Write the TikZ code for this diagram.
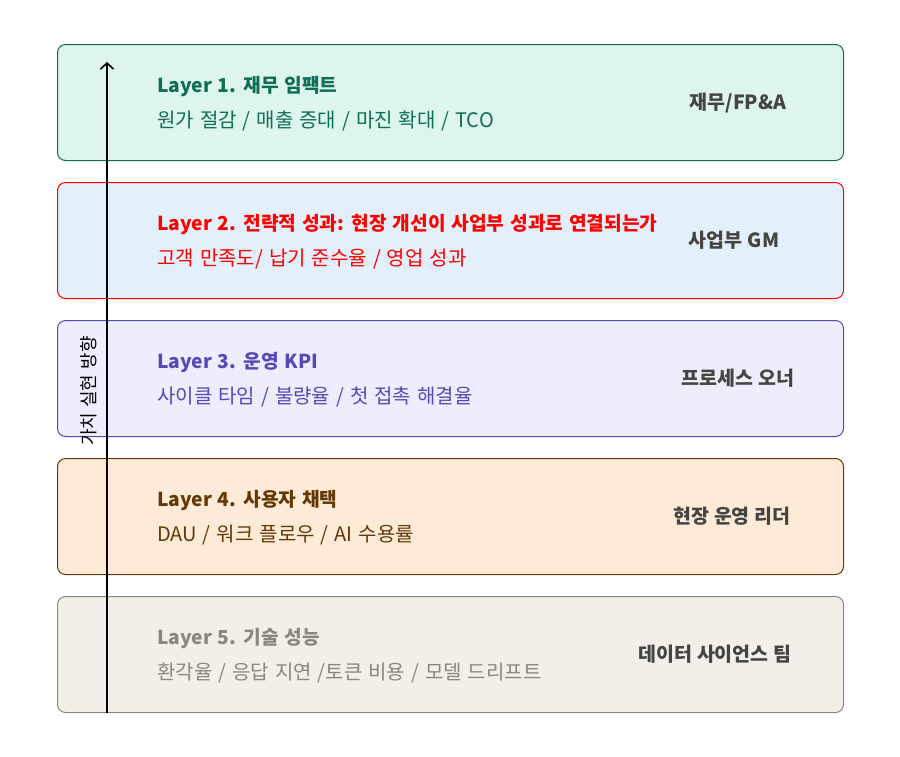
\documentclass[tikz,border=0pt]{standalone}
\usepackage{fontspec}
\setmainfont{Noto Sans CJK KR}
\usetikzlibrary{arrows.meta}
\definecolor{tealfill}{HTML}{DDF5EC}
\definecolor{tealline}{HTML}{0F6E56}
\definecolor{tealtext}{HTML}{0F6E56}
\definecolor{bluefill}{HTML}{E3EFFA}
\definecolor{redline}{HTML}{FF0000}
\definecolor{purpfill}{HTML}{EEEDFE}
\definecolor{purpline}{HTML}{534AB7}
\definecolor{purptext}{HTML}{534AB7}
\definecolor{ambfill}{HTML}{FDEBD7}
\definecolor{ambline}{HTML}{633806}
\definecolor{ambtext}{HTML}{633806}
\definecolor{grayfill}{HTML}{F1EFE8}
\definecolor{grayline}{HTML}{888780}
\definecolor{graytext}{HTML}{888780}
\definecolor{owner}{HTML}{444441}
\newcommand{\titlefnt}{\bfseries\fontsize{19.2}{22}\selectfont\spaceskip=5.8pt\relax}
\newcommand{\subfnt}{\fontsize{20}{24}\selectfont\spaceskip=6pt\relax}
\newcommand{\ownerfnt}{\bfseries\fontsize{19.5}{23}\selectfont\spaceskip=5pt\relax}
\newcommand{\vlabfnt}{\fontsize{18}{21}\selectfont\spaceskip=5pt\relax}
\tikzset{
  layerbox/.style={rectangle, rounded corners=8pt, line width=1pt, minimum width=786pt, minimum height=116pt, anchor=north west, inner sep=0pt},
  titletext/.style={anchor=base west, inner sep=0pt, font=\titlefnt},
  subtext/.style={anchor=base west, inner sep=0pt, font=\subfnt},
  ownertext/.style={anchor=base, inner sep=0pt, text=owner, font=\ownerfnt},
  arrowline/.style={line width=1.6pt, -{Straight Barb[length=6pt,width=13pt,line width=1.6pt]}},
}
\begin{document}
\begin{tikzpicture}[x=1pt,y=-1pt]
\useasboundingbox (0,0) rectangle (900,756);
\fill[white] (0,0) rectangle (900,756);

\node[layerbox, draw=tealline, fill=tealfill] (b1) at (57,44) {};
\node[layerbox, draw=redline, fill=bluefill] (b2) at (57,182) {};
\node[layerbox, draw=purpline, fill=purpfill] (b3) at (57,320) {};
\node[layerbox, draw=ambline, fill=ambfill] (b4) at (57,458) {};
\node[layerbox, draw=grayline, fill=grayfill] (b5) at (57,596) {};

\node[titletext, text=tealtext] (t1) at (157,92) {Layer 1. 재무 임팩트};
\node[subtext, text=tealtext] (s1) at (157,127) {원가 절감 / 매출 증대 / 마진 확대 / TCO};
\node[ownertext] (o1) at (738,109) {재무/FP\&A};

\node[titletext, text=redline] (t2) at (157,230) {Layer 2. 전략적 성과: 현장 개선이 사업부 성과로 연결되는가};
\node[subtext, text=redline] (s2) at (157,265) {고객 만족도/ 납기 준수율 / 영업 성과};
\node[ownertext] (o2) at (734,247) {사업부 GM};

\node[titletext, text=purptext] (t3) at (157,368) {Layer 3. 운영 KPI};
\node[subtext, text=purptext] (s3) at (157,403) {사이클 타임 / 불량율 / 첫 접촉 해결율};
\node[ownertext] (o3) at (738,385) {프로세스 오너};

\node[titletext, text=ambtext] (t4) at (157,506) {Layer 4. 사용자 채택};
\node[subtext, text=ambtext] (s4) at (157,541) {DAU / 워크 플로우 / AI 수용률};
\node[ownertext] (o4) at (732,523) {현장 운영 리더};

\node[titletext, text=graytext] (t5) at (157,644) {Layer 5. 기술 성능};
\node[subtext, text=graytext] (s5) at (157,679) {환각율 / 응답 지연 /토큰 비용 / 모델 드리프트};
\node[ownertext] (o5) at (715,661) {데이터 사이언스 팀};

\coordinate (arrtop) at (107,62);
\draw[arrowline] (b5.south -| arrtop) -- (arrtop);
\node[rotate=90, inner sep=0pt, font=\vlabfnt] (vlab) at (89,391) {가치 실현 방향};
\end{tikzpicture}
\end{document}
